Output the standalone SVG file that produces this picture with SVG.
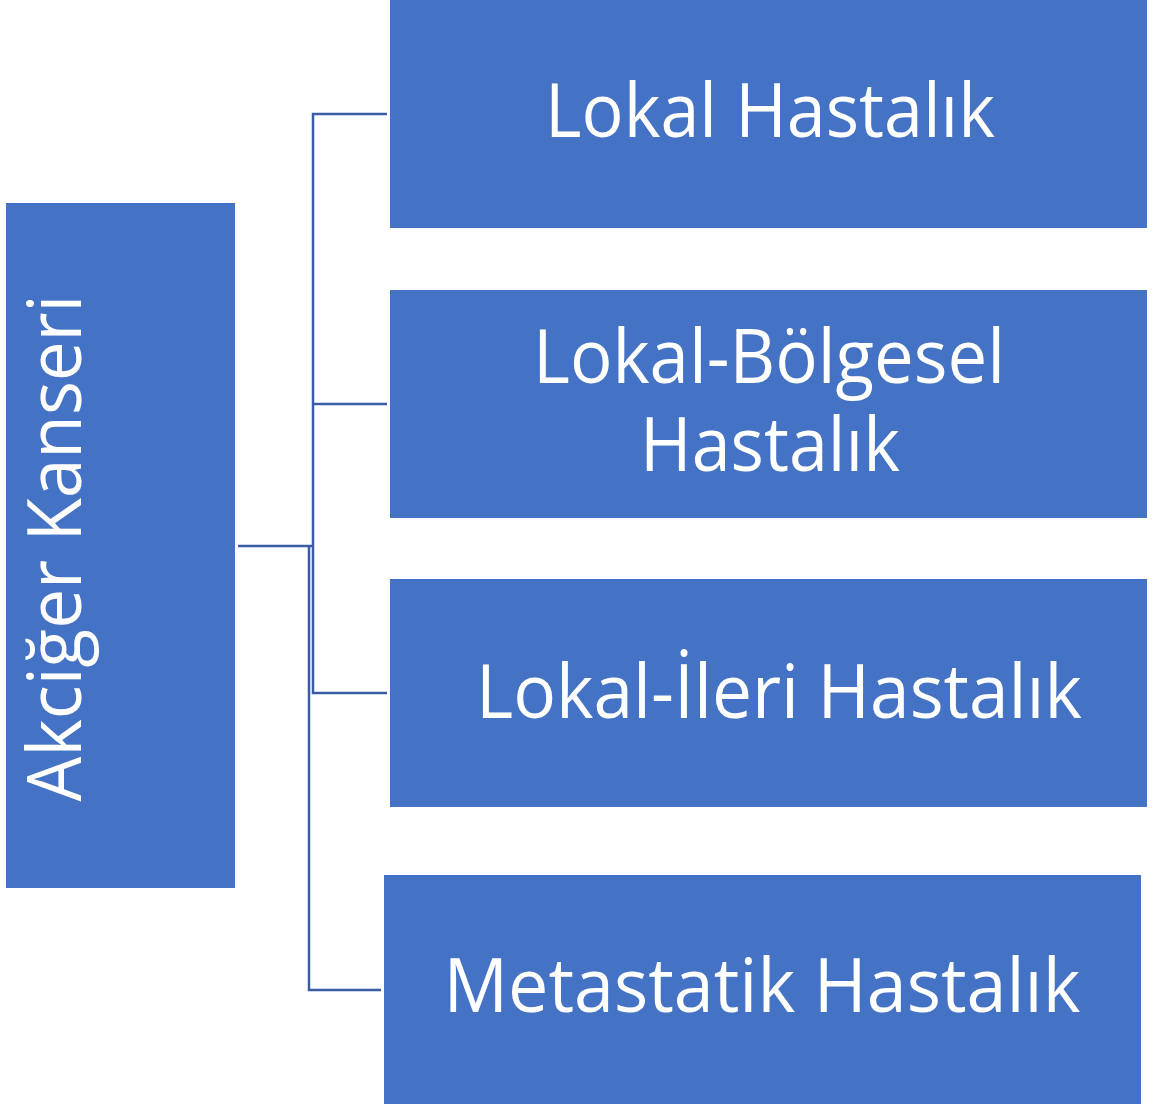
<svg xmlns="http://www.w3.org/2000/svg" width="1153" height="1108" viewBox="0 0 1153 1108">
  <style>
    .box { fill: #4472C4; }
    .label { fill: #FFFFFF; font-family: "Open Sans", "Noto Sans", "DejaVu Sans", sans-serif; font-size: 75px; text-anchor: middle; }
    .wire { fill: none; stroke: #3A5DA6; stroke-width: 2.5; }
  </style>
  <rect width="1153" height="1108" fill="#FFFFFF"/>

  <!-- connectors from the root box to each category -->
  <g id="connectors">
    <path class="wire" d="M238,546 H312"/>
    <path class="wire" d="M387,114 H313 V693 H387"/>
    <path class="wire" d="M313,404 H387"/>
    <path class="wire" d="M309,546 V990 H381"/>
  </g>

  <g id="root">
    <rect class="box" x="6" y="203" width="229" height="685"/>
    <text class="label" transform="translate(81,548) rotate(-90)" x="0" y="0" textLength="507" lengthAdjust="spacingAndGlyphs">Akciğer Kanseri</text>
  </g>

  <g id="lokal">
    <rect class="box" x="390" y="0" width="757" height="228"/>
    <text class="label" x="770" y="137" textLength="450" lengthAdjust="spacingAndGlyphs">Lokal Hastalık</text>
  </g>

  <g id="lokal-bolgesel">
    <rect class="box" x="390" y="290" width="757" height="228"/>
    <text class="label"><tspan x="769" y="383" textLength="472" lengthAdjust="spacingAndGlyphs">Lokal-Bölgesel</tspan><tspan x="770" y="471" textLength="260" lengthAdjust="spacingAndGlyphs">Hastalık</tspan></text>
  </g>

  <g id="lokal-ileri">
    <rect class="box" x="390" y="579" width="757" height="228"/>
    <text class="label" x="779" y="718" textLength="606" lengthAdjust="spacingAndGlyphs">Lokal-İleri Hastalık</text>
  </g>

  <g id="metastatik">
    <rect class="box" x="384" y="875" width="757" height="229"/>
    <text class="label" x="762" y="1012" textLength="637" lengthAdjust="spacingAndGlyphs">Metastatik Hastalık</text>
  </g>
</svg>
